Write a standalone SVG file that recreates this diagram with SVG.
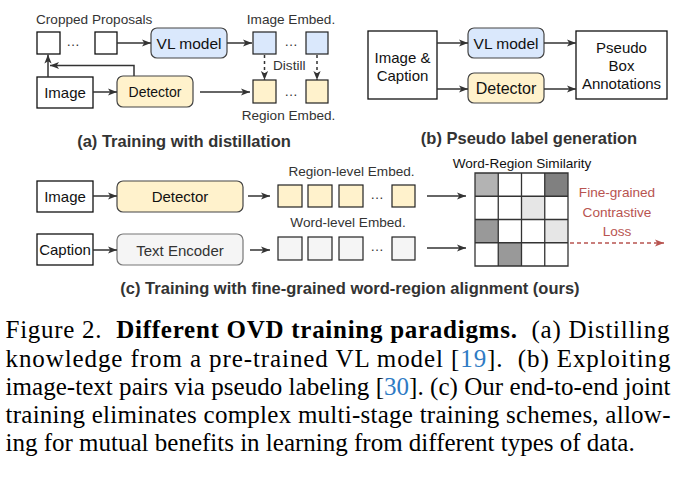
<svg xmlns="http://www.w3.org/2000/svg" width="683" height="477" viewBox="0 0 683 477">
<style>
text{font-family:"Liberation Sans",Arial,sans-serif;fill:#1a1a1a}
.s{font-size:13.6px;fill:#333}
.m{font-size:15px;fill:#111}
.t{font-size:16.5px;font-weight:bold;fill:#333}
.c{text-anchor:middle}
.box{fill:#fff;stroke:#111;stroke-width:1.3}
.sq{stroke:#222;stroke-width:1.2}
.blue{fill:#dae8fc}
.yel{fill:#fff2cc}
.gry{fill:#f5f5f5}
.rr{stroke:#444;stroke-width:1.2}
.ln{fill:none;stroke:#333;stroke-width:1.5}
.dash{stroke-dasharray:3,3}
.red{font-size:13.6px;fill:#b85450}
.cap{font-family:"Liberation Serif","Times New Roman",serif;font-size:25px;fill:#000;white-space:pre}
.cite{fill:#2e7bc4}
</style>
<defs>
<marker id="ah" viewBox="0 0 10 10" refX="10" refY="5" markerWidth="9" markerHeight="9" markerUnits="userSpaceOnUse" orient="auto">
<path d="M0,1 L10,5 L0,9 L2.5,5 z" fill="#333"/>
</marker>
<marker id="ahr" viewBox="0 0 10 10" refX="10" refY="5" markerWidth="9" markerHeight="9" markerUnits="userSpaceOnUse" orient="auto">
<path d="M0,1 L10,5 L0,9 L2.5,5 z" fill="#b85450"/>
</marker>
</defs>

<!-- Panel (a) -->
<text class="s" x="36" y="24">Cropped Proposals</text>
<g id="a-crop1"><rect class="box" x="37" y="32" width="23" height="22"/></g>
<text class="s c" x="73" y="46">…</text>
<g id="a-crop2"><rect class="box" x="95" y="32" width="22" height="22"/></g>
<g id="a-vl"><rect class="blue rr" x="151" y="28" width="76" height="30" rx="6"/><text class="m c" x="189" y="48.5" style="font-size:15.5px">VL model</text></g>
<text class="s c" x="291" y="24">Image Embed.</text>
<g id="a-ie1"><rect class="blue sq" x="253" y="32" width="23" height="22"/></g>
<text class="s c" x="291" y="46">…</text>
<g id="a-ie2"><rect class="blue sq" x="306" y="32" width="22" height="22"/></g>
<text class="s" x="273" y="69.5">Distill</text>
<g id="a-re1"><rect class="yel sq" x="253" y="80" width="23" height="23"/></g>
<text class="s c" x="291" y="96">…</text>
<g id="a-re2"><rect class="yel sq" x="306" y="80" width="22" height="23"/></g>
<text class="s c" x="288.5" y="119.5">Region Embed.</text>
<g id="a-image"><rect class="box" x="37" y="77" width="56" height="31"/><text class="m c" x="65" y="98">Image</text></g>
<g id="a-det"><rect class="yel rr" x="117" y="76" width="76" height="31" rx="6"/><text class="m c" x="155" y="97" style="font-size:14px">Detector</text></g>
<text class="t c" x="184" y="146.5">(a) Training with distillation</text>

<!-- Panel (b) -->
<g id="b-input"><rect class="box" x="368" y="31" width="69" height="68"/><text class="m c" x="402.5" y="62.5">Image &amp;</text><text class="m c" x="402.5" y="80.5">Caption</text></g>
<g id="b-vl"><rect class="blue rr" x="468" y="28" width="76" height="30" rx="6"/><text class="m c" x="506" y="48.5" style="font-size:15.5px">VL model</text></g>
<g id="b-det"><rect class="yel rr" x="468" y="73" width="76" height="30" rx="6"/><text class="m c" x="506" y="94" style="font-size:16px">Detector</text></g>
<g id="b-pseudo"><rect class="box" x="576" y="31" width="91" height="68"/><text class="m c" x="621.5" y="53">Pseudo</text><text class="m c" x="621.5" y="71">Box</text><text class="m c" x="621.5" y="89">Annotations</text></g>
<text class="t c" x="529" y="144">(b) Pseudo label generation</text>

<!-- Panel (c) -->
<g id="c-image"><rect class="box" x="37" y="181" width="56" height="31"/><text class="m c" x="65" y="202">Image</text></g>
<g id="c-det"><rect class="yel rr" x="117" y="181" width="126" height="31" rx="6"/><text class="m c" x="180" y="202">Detector</text></g>
<g id="c-caption"><rect class="box" x="37" y="234" width="56" height="31"/><text class="m c" x="65" y="255">Caption</text></g>
<g id="c-textenc"><rect class="gry" x="117" y="234" width="126" height="31" rx="6" stroke="#777" stroke-width="1.2"/><text class="m c" x="180" y="255.5" style="fill:#333">Text Encoder</text></g>
<text class="s c" x="351.5" y="175.5">Region-level Embed.</text>
<g id="c-re1"><rect class="yel sq" x="278" y="185" width="24" height="22"/></g>
<g id="c-re2"><rect class="yel sq" x="308" y="185" width="24" height="22"/></g>
<g id="c-re3"><rect class="yel sq" x="339" y="185" width="24" height="22"/></g>
<text class="s c" x="377" y="199">…</text>
<g id="c-re4"><rect class="yel sq" x="392" y="185" width="23" height="22"/></g>
<text class="s c" x="348" y="226.5">Word-level Embed.</text>
<g id="c-we1"><rect class="gry sq" x="278" y="237" width="24" height="23"/></g>
<g id="c-we2"><rect class="gry sq" x="308" y="237" width="24" height="23"/></g>
<g id="c-we3"><rect class="gry sq" x="339" y="237" width="24" height="23"/></g>
<text class="s c" x="377" y="251">…</text>
<g id="c-we4"><rect class="gry sq" x="392" y="237" width="23" height="23"/></g>
<text class="s c" x="522" y="168" style="fill:#111">Word-Region Similarity</text>
<g id="c-grid">
<rect x="475" y="173" width="93" height="93" fill="#fff"/>
<rect x="475" y="173" width="23.25" height="23.25" fill="#b3b3b3"/>
<rect x="544.75" y="173" width="23.25" height="23.25" fill="#808080"/>
<rect x="521.5" y="196.25" width="23.25" height="23.25" fill="#e6e6e6"/>
<rect x="475" y="219.5" width="23.25" height="23.25" fill="#999999"/>
<rect x="544.75" y="219.5" width="23.25" height="23.25" fill="#e6e6e6"/>
<rect x="498.25" y="242.75" width="23.25" height="23.25" fill="#999999"/>
<path d="M475,173 H568 V266 H475 Z M498.25,173 V266 M521.5,173 V266 M544.75,173 V266 M475,196.25 H568 M475,219.5 H568 M475,242.75 H568" fill="none" stroke="#333" stroke-width="1.3"/>
</g>
<g id="c-loss"><text class="red c" x="617" y="197">Fine-grained</text><text class="red c" x="617" y="216.5">Contrastive</text><text class="red c" x="617" y="236">Loss</text></g>
<text class="t c" x="350" y="294">(c) Training with fine-grained word-region alignment (ours)</text>

<!-- Connectors -->
<g id="connectors">
<line class="ln" x1="117" y1="43" x2="151" y2="43" marker-end="url(#ah)"/>
<line class="ln" x1="227" y1="43" x2="252" y2="43" marker-end="url(#ah)"/>
<line class="ln dash" x1="264.5" y1="55" x2="264.5" y2="80" marker-end="url(#ah)"/>
<line class="ln dash" x1="317" y1="55" x2="317" y2="80" marker-end="url(#ah)"/>
<line class="ln" x1="93" y1="92" x2="117" y2="92" marker-end="url(#ah)"/>
<line class="ln" x1="200" y1="92" x2="250" y2="92" marker-end="url(#ah)"/>
<line class="ln" x1="48" y1="77" x2="48" y2="54.5" marker-end="url(#ah)"/>
<polyline class="ln" points="134,76 134,65.5 50,65.5" marker-end="url(#ah)"/>
<line class="ln" x1="437" y1="43" x2="468" y2="43" marker-end="url(#ah)"/>
<line class="ln" x1="437" y1="89" x2="468" y2="89" marker-end="url(#ah)"/>
<line class="ln" x1="544" y1="43" x2="576" y2="43" marker-end="url(#ah)"/>
<line class="ln" x1="544" y1="89" x2="576" y2="89" marker-end="url(#ah)"/>
<line class="ln" x1="93" y1="196" x2="117" y2="196" marker-end="url(#ah)"/>
<line class="ln" x1="248" y1="196" x2="270" y2="196" marker-end="url(#ah)"/>
<line class="ln" x1="93" y1="250" x2="117" y2="250" marker-end="url(#ah)"/>
<line class="ln" x1="250" y1="250" x2="270" y2="250" marker-end="url(#ah)"/>
<line class="ln" x1="427" y1="196" x2="466" y2="196" marker-end="url(#ah)"/>
<line class="ln" x1="427" y1="248" x2="466" y2="248" marker-end="url(#ah)"/>
<line x1="570" y1="243" x2="664" y2="243" stroke="#b85450" stroke-width="1.5" stroke-dasharray="4,3" marker-end="url(#ahr)"/>
</g>

<!-- Caption -->
<g id="caption">
<text class="cap" x="5.5" y="338" textLength="664" lengthAdjust="spacing">Figure 2.  <tspan font-weight="bold">Different OVD training paradigms.</tspan>  (a) Distilling</text>
<text class="cap" x="5.5" y="366.5" textLength="665" lengthAdjust="spacing">knowledge from a pre-trained VL model [<tspan class="cite">19</tspan>].  (b) Exploiting</text>
<text class="cap" x="5.5" y="395" textLength="665" lengthAdjust="spacing">image-text pairs via pseudo labeling [<tspan class="cite">30</tspan>]. (c) Our end-to-end joint</text>
<text class="cap" x="5.5" y="423" textLength="665" lengthAdjust="spacing">training eliminates complex multi-stage training schemes, allow-</text>
<text class="cap" x="5.5" y="451">ing for mutual benefits in learning from different types of data.</text>
</g>
</svg>
